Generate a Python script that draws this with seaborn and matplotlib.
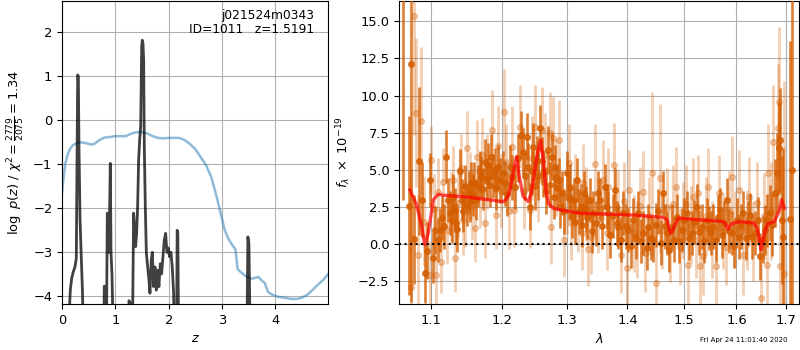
import numpy as np
import pandas as pd
import matplotlib
matplotlib.use("Agg")
import matplotlib.pyplot as plt
from matplotlib.ticker import FixedLocator, FixedFormatter, NullLocator
import seaborn as sns

plt.rcParams['font.family'] = ['DejaVu Sans']
plt.rcParams['font.size'] = 9.4

# ---------------- left panel: p(z) and chi2 curves ----------------
z_pz = [0.0, 0.06, 0.131, 0.156, 0.181, 0.212, 0.243, 0.268, 0.281, 0.294, 0.306,
        0.318, 0.337, 0.356, 0.381, 0.406, 0.5, 0.7, 0.786, 0.792, 0.811, 0.817,
        0.836, 0.849, 0.861, 0.873, 0.886, 0.905, 0.918, 0.937, 0.962, 1.05,
        1.242, 1.255, 1.273, 1.292, 1.323, 1.342, 1.361, 1.380, 1.398, 1.417,
        1.436, 1.455, 1.474, 1.493, 1.504, 1.517, 1.530, 1.542, 1.561, 1.580,
        1.605, 1.629, 1.648, 1.673, 1.692, 1.717, 1.742, 1.767, 1.792, 1.816,
        1.841, 1.866, 1.891, 1.916, 1.942, 1.966, 1.991, 2.016, 2.041, 2.066,
        2.091, 2.104, 2.13, 2.146, 2.158, 2.170, 2.185, 2.3, 3.4, 3.464, 3.483,
        3.502, 3.527, 3.6, 4.99]
logpz = [-8, -8, -4.5, -3.86, -3.59, -3.44, -3.33, -3.14, -1.0, 1.03, 1.0,
         -0.6, -2.2, -2.93, -3.8, -5, -8, -8, -4.5, -3.77, -3.8, -5,
         -4.3, -2.11, -2.2, -3.0, -2.55, -0.98, -3.0, -3.53, -5, -8,
         -5, -4.1, -4.13, -5, -4.5, -2.11, -2.49, -2.87, -2.57, -1.96,
         -0.9, -0.44, -0.15, 1.67, 1.82, 1.75, 1.37, -0.6, -1.96, -3.0,
         -3.33, -3.63, -3.93, -3.18, -3.0, -3.78, -3.33, -3.86, -3.41, -3.78,
         -3.26, -3.49, -3.11, -2.73, -2.57, -3.0, -2.9, -3.1, -3.0, -3.33,
         -3.93, -5, -8, -5, -2.5, -2.57, -5, -8, -8, -5, -2.65,
         -2.8, -5, -8, -8]

z_chi = [0.0, 0.03, 0.06, 0.1, 0.15, 0.2, 0.27, 0.35, 0.45, 0.55, 0.6, 0.7, 0.8,
         0.9, 1.0, 1.1, 1.2, 1.3, 1.4, 1.5, 1.6, 1.7, 1.8, 1.9, 2.0, 2.1, 2.2,
         2.3, 2.4, 2.5, 2.6, 2.7, 2.8, 2.9, 2.97, 3.05, 3.12, 3.2, 3.25, 3.29,
         3.35, 3.45, 3.55, 3.62, 3.68, 3.75, 3.8, 3.86, 3.95, 4.05, 4.15, 4.3,
         4.4, 4.5, 4.6, 4.7, 4.8, 4.9, 4.99]
chi_curve = [-1.65, -1.3, -1.0, -0.8, -0.65, -0.57, -0.52, -0.5, -0.52, -0.55, -0.54,
             -0.45, -0.39, -0.38, -0.36, -0.36, -0.36, -0.3, -0.27, -0.27, -0.3,
             -0.36, -0.4, -0.41, -0.4, -0.4, -0.4, -0.45, -0.54, -0.66, -0.84,
             -1.02, -1.3, -1.75, -2.1, -2.5, -2.7, -2.85, -2.93, -3.38, -3.45,
             -3.55, -3.6, -3.58, -3.56, -3.65, -3.7, -3.9, -3.97, -4.01, -4.03,
             -4.06, -4.06, -4.03, -3.96, -3.85, -3.73, -3.62, -3.49]

# ---------------- right panel: spectrum ----------------
wave_d = [1.0635, 1.0712, 1.0738, 1.0778, 1.0840, 1.0888, 1.0920, 1.0954, 1.0995, 1.1035,
          1.1054, 1.1098, 1.1130, 1.1157, 1.1185, 1.1211, 1.1235, 1.1258, 1.1289, 1.1310,
          1.1326, 1.1345, 1.1363, 1.1398, 1.1430, 1.1450, 1.1468, 1.1495, 1.1525, 1.1545,
          1.1562, 1.1580, 1.1600, 1.1630, 1.1657, 1.1680, 1.1704, 1.1730, 1.1752, 1.1780,
          1.1802, 1.1825, 1.1848, 1.1870, 1.1897, 1.1920, 1.1946, 1.1975, 1.2019, 1.2049,
          1.2085, 1.2122, 1.2160, 1.2197, 1.2240, 1.2282, 1.2312, 1.2345, 1.2373, 1.2397,
          1.2423, 1.2450, 1.2474, 1.2500, 1.2526, 1.2550, 1.2577, 1.2605, 1.2629, 1.2665,
          1.2708, 1.2735, 1.2762, 1.2790, 1.2815, 1.2840, 1.2868, 1.2895, 1.2922, 1.2960,
          1.3002, 1.3030, 1.3055, 1.3080, 1.3109, 1.3135, 1.3163, 1.3190, 1.3218, 1.3245,
          1.3272, 1.3300, 1.3326, 1.3371, 1.3400, 1.3425, 1.3465, 1.3508, 1.3536, 1.3565,
          1.3619, 1.3647, 1.3675, 1.3710, 1.3750, 1.3787, 1.3815, 1.3843, 1.3885, 1.3928,
          1.3970, 1.4013, 1.4055, 1.4099, 1.4140, 1.4186, 1.4230, 1.4273, 1.4332, 1.4361,
          1.4405, 1.4450, 1.4495, 1.4539, 1.4580, 1.4628, 1.4660, 1.4688, 1.4730, 1.4779,
          1.4820, 1.4869, 1.4915, 1.4961, 1.5005, 1.5053, 1.5100, 1.5145, 1.5190, 1.5238,
          1.5285, 1.5331, 1.5380, 1.5425, 1.5470, 1.5510, 1.5551, 1.5600, 1.5640, 1.5679,
          1.5720, 1.5765, 1.5808, 1.5855, 1.5906, 1.5950, 1.6004, 1.6050, 1.6090, 1.6134,
          1.6180, 1.6220, 1.6266, 1.6310, 1.6366, 1.6420, 1.6466, 1.6520, 1.6567, 1.6620,
          1.6669, 1.6720, 1.6771, 1.6818, 1.6846, 1.6874, 1.6909, 1.6930, 1.7083, 1.7130]
flux_d = [20.0, 2.6, 12.1, 0.33, 5.6, 3.0, -1.96, -0.43, 4.32, -0.9,
          0.96, 0.29, 0.96, 1.75, 1.2, 5.9, 2.98, 2.1, 1.6, 3.2,
          2.3, 1.4, 1.0, 4.9, 3.0, 2.2, 3.9, 2.6, 3.5, 2.9,
          4.1, 3.3, 4.1, 3.0, 3.9, 4.9, 4.5, 3.7, 5.56, 4.4,
          5.3, 4.0, 5.9, 4.6, 5.0, 3.8, 5.2, 4.3, 4.8, 4.1,
          3.4, 5.2, 4.5, 3.87, 5.8, 7.35, 6.23, 4.6, 7.24, 5.2,
          2.53, 4.9, 6.57, 3.9, 5.67, 4.6, 7.8, 5.6, 4.77, 3.6,
          6.34, 4.0, 5.9, 3.2, 5.2, 3.8, 4.32, 2.6, 3.43, 2.2,
          4.77, 3.1, 3.87, 1.9, 2.98, 1.5, 4.32, 2.2, 2.53, 1.3,
          3.43, 2.4, 1.85, 2.98, 0.9, 2.08, 1.4, 3.43, 2.98, 1.2,
          3.87, 2.53, 2.1, 0.6, 1.9, 3.65, 1.4, 1.18, 0.3, 2.1,
          1.2, 0.96, -0.1, 1.63, 0.5, 2.1, 0.2, 0.74, -0.27, 1.18,
          0.4, 0.29, 1.3, 2.2, 0.1, 3.43, 1.2, 0.74, -0.4, 1.18,
          0.3, 1.85, 0.2, 0.96, 1.6, 2.1, 0.4, 0.74, 1.5, 2.53,
          0.8, 1.18, 0.2, 1.63, 1.1, 0.74, 1.18, 0.3, 1.8, 2.31,
          0.6, 1.4, 2.98, 0.9, 0.74, -0.1, 1.63, 0.5, 1.2, 2.1,
          0.4, 1.4, 1.97, 0.5, 0.74, 1.6, -0.83, 0.3, 0.96, 1.6,
          2.1, 1.3, 3.43, 4.77, 6.45, 7.02, 1.63, 0.5, 1.7, 5.0]
err_d = [17.0, 6.0, 16.0, 3.0, 5.0, 2.5, 2.0, 1.9, 1.8, 1.7,
         1.6, 1.5, 1.5, 1.5, 1.5, 1.8, 1.5, 1.5, 1.5, 1.5,
         1.5, 1.4, 1.5, 1.5, 1.4, 1.4, 1.4, 1.4, 1.4, 1.4,
         1.4, 1.4, 1.4, 1.4, 1.4, 1.4, 1.4, 1.4, 1.5, 1.4,
         1.5, 1.5, 1.5, 1.5, 1.5, 1.5, 1.5, 1.5, 1.5, 1.5,
         1.5, 1.5, 1.5, 1.5, 1.6, 1.6, 1.6, 1.6, 1.6, 1.6,
         1.6, 1.6, 1.6, 1.6, 1.6, 1.6, 1.6, 1.6, 1.6, 1.6,
         1.6, 1.5, 1.6, 1.5, 1.5, 1.5, 1.5, 1.5, 1.5, 1.5,
         1.5, 1.5, 1.5, 1.5, 1.5, 1.5, 1.5, 1.5, 1.5, 1.5,
         1.5, 1.5, 1.5, 1.5, 1.5, 1.5, 1.5, 1.5, 1.5, 1.5,
         1.5, 1.5, 1.5, 1.5, 1.5, 1.5, 1.5, 1.5, 1.5, 1.5,
         1.5, 1.5, 1.5, 1.5, 1.5, 1.5, 1.5, 1.5, 1.5, 1.5,
         1.5, 1.5, 1.5, 1.5, 1.5, 1.5, 1.5, 1.5, 1.5, 1.5,
         1.5, 1.5, 1.5, 1.5, 1.5, 1.5, 1.5, 1.5, 1.5, 1.5,
         1.5, 1.5, 1.5, 1.5, 1.5, 1.5, 1.5, 1.5, 1.5, 1.5,
         1.5, 1.5, 1.5, 1.5, 1.5, 1.5, 1.5, 1.5, 1.5, 1.5,
         1.5, 1.5, 1.5, 1.5, 1.5, 1.6, 1.6, 1.6, 1.7, 1.8,
         1.9, 2.1, 2.3, 2.7, 3.1, 3.5, 4.3, 6.0, 12.0, 20.0]

wave_l = [1.0743, 1.0778, 1.0808, 1.0831, 1.0874, 1.0910, 1.0987, 1.1008, 1.1045, 1.1067,
          1.1100, 1.1143, 1.1170, 1.1225, 1.1280, 1.1303, 1.1335, 1.1370, 1.1410, 1.1440,
          1.1475, 1.1505, 1.1540, 1.1575, 1.1610, 1.1640, 1.1680, 1.1720, 1.1759, 1.1790,
          1.1862, 1.1920, 1.1950, 1.1990, 1.2030, 1.2070, 1.2110, 1.2147, 1.2180, 1.2272,
          1.2330, 1.2418, 1.2460, 1.2500, 1.2540, 1.2602, 1.2650, 1.2731, 1.2750, 1.2784,
          1.2830, 1.2879, 1.2949, 1.3000, 1.3029, 1.3070, 1.3120, 1.3180, 1.3233, 1.3260,
          1.3310, 1.3342, 1.3390, 1.3452, 1.3500, 1.3591, 1.3647, 1.3670, 1.3770, 1.3830,
          1.3883, 1.3940, 1.3984, 1.4030, 1.4110, 1.4157, 1.4210, 1.4262, 1.4300, 1.4380,
          1.4432, 1.4497, 1.4568, 1.4610, 1.4700, 1.4748, 1.4800, 1.4857, 1.4930, 1.4990,
          1.5041, 1.5084, 1.5130, 1.5176, 1.5220, 1.5269, 1.5300, 1.5362, 1.5410, 1.5456,
          1.5530, 1.5603, 1.5660, 1.5740, 1.5790, 1.5860, 1.5918, 1.5980, 1.6054, 1.6134,
          1.6200, 1.6250, 1.6330, 1.6410, 1.6485, 1.6540, 1.6601, 1.6621, 1.6700, 1.6737,
          1.6825, 1.6857, 1.6874, 1.6967]
flux_l = [-2.9, 15.36, 8.85, -0.72, 8.3, 1.5, -2.07, 5.67, 2.4, -2.07,
          3.5, -1.17, 4.2, 0.96, 2.53, 4.32, -0.9, 2.8, 5.1, 1.6,
          2.1, 6.45, 3.9, 2.6, 1.11, 5.85, 3.4, 6.0, 1.4, 4.9,
          7.7, 1.97, 6.63, 3.6, 8.88, 5.5, 2.2, 6.57, 2.31, 7.91,
          3.6, 2.31, 5.8, 7.91, 4.3, 7.7, 6.0, 7.47, 1.18, 7.13,
          4.5, 7.02, 0.29, 3.2, 5.49, 1.4, 3.6, 2.0, 0.74, 4.14,
          2.7, -0.34, 0.46, 5.4, 1.9, 4.32, 0.74, 3.87, 5.33, 2.4,
          -0.72, 2.9, -1.62, 3.65, 0.74, 0.29, 2.6, 3.54, -0.6, 1.9,
          4.77, -2.63, 4.43, 0.96, 2.5, 0.06, 2.7, 3.87, -0.16, 1.6,
          2.71, -1.4, 1.3, 3.2, 0.3, 3.43, -1.5, -0.83, 1.9, 3.87,
          0.29, -1.5, 3.43, 0.9, -0.16, 2.3, 4.55, 1.0, 3.65, -0.72,
          0.96, 3.2, 0.2, 2.75, -3.64, 1.9, -1.4, 4.77, 2.2, 6.9,
          7.8, 9.59, -1.5, -2.0]
err_l = [8.0, 8.0, 5.0, 4.0, 5.0, 3.0, 2.3, 2.3, 2.3, 2.1,
         2.3, 2.1, 2.3, 2.3, 2.3, 2.3, 2.3, 2.3, 2.3, 2.3,
         2.3, 2.5, 2.3, 2.3, 2.3, 2.5, 2.3, 2.5, 2.3, 2.5,
         2.7, 2.3, 2.7, 2.5, 2.9, 2.6, 2.5, 2.7, 2.5, 2.8,
         2.6, 2.6, 2.8, 2.8, 2.8, 2.9, 2.8, 2.8, 2.5, 2.8,
         2.6, 2.7, 2.5, 2.5, 2.6, 2.5, 2.5, 2.5, 2.5, 2.6,
         2.5, 2.5, 2.5, 2.7, 2.5, 2.7, 2.5, 2.6, 2.8, 2.6,
         2.6, 2.6, 2.6, 2.7, 2.6, 2.6, 2.6, 2.7, 2.6, 2.6,
         5.5, 2.8, 5.0, 2.6, 2.6, 2.6, 2.6, 2.7, 2.6, 2.6,
         2.6, 2.6, 2.6, 2.6, 2.6, 2.6, 2.6, 2.6, 2.6, 2.6,
         2.6, 2.6, 2.6, 2.6, 2.6, 2.6, 2.7, 2.6, 2.7, 2.7,
         2.7, 2.7, 2.7, 2.8, 2.9, 2.9, 3.1, 3.3, 3.3, 3.8,
         4.3, 5.0, 5.0, 13.0]

wave_model = [1.0725, 1.0812, 1.0880, 1.0920, 1.0968, 1.1035, 1.1103, 1.1160, 1.1448,
              1.2024, 1.2080, 1.2122, 1.2180, 1.2221, 1.2260, 1.2321, 1.2397, 1.2440,
              1.2474, 1.2540, 1.2588, 1.2628, 1.2670, 1.2705, 1.2784, 1.2900, 1.3208,
              1.4042, 1.4627, 1.4699, 1.4730, 1.4760, 1.4790, 1.4820, 1.4899, 1.5736,
              1.5790, 1.5833, 1.5897, 1.6060, 1.6356, 1.6422, 1.6460, 1.6490, 1.6520,
              1.6557, 1.6625, 1.6761, 1.6864, 1.6912, 1.6967]
flux_model = [3.65, 2.64, 1.2, -0.05, 0.74, 2.98, 3.36, 3.3, 3.2,
              2.86, 3.1, 3.65, 5.0, 5.9, 4.6, 3.2, 2.86, 3.4,
              4.3, 6.2, 7.0, 5.67, 3.6, 2.75, 2.42, 2.3, 2.08,
              1.97, 1.81, 1.63, 1.1, 0.74, 0.85, 1.18, 1.75, 1.52,
              1.35, 1.0, 1.36, 1.52, 1.41, 0.96, 0.2, -0.39, 0.1,
              0.74, 1.36, 1.52, 2.3, 2.98, 2.42]

title_lines = "j021524m0343\nID=1011   z=1.5191"
stamp = "Fri Apr 24 11:01:40 2020"
xticks_left = [0, 1, 2, 3, 4]
yticks_left = [-4, -3, -2, -1, 0, 1, 2]
xticks_right = [1.1, 1.2, 1.3, 1.4, 1.5, 1.6, 1.7]
yticks_right = [-2.5, 0.0, 2.5, 5.0, 7.5, 10.0, 12.5, 15.0]

GRISM = '#D55E00'

fig = plt.figure(figsize=(8, 3.5), dpi=100)
ax1 = fig.add_axes([0.0775, 0.1314, 0.3329, 0.8657])
ax2 = fig.add_axes([0.4991, 0.1314, 0.5000, 0.8657])

# left
df_chi = pd.DataFrame({'z': z_chi, 'v': chi_curve})
df_pz = pd.DataFrame({'z': z_pz, 'v': logpz})
sns.lineplot(data=df_chi, x='z', y='v', ax=ax1, color='C0', alpha=0.5, lw=1.8,
             estimator=None, sort=False)
sns.lineplot(data=df_pz, x='z', y='v', ax=ax1, color='k', alpha=0.75, lw=2,
             estimator=None, sort=False)
ax1.set_xlim(0, 4.99)
ax1.set_ylim(-4.175, 2.711)
ax1.set_xticks(xticks_left)
ax1.set_yticks(yticks_left)
ax1.grid(True)
ax1.set_axisbelow(True)
ax1.set_xlabel('$z$')
ax1.set_ylabel(r'$\log\ p(z)$ / $\chi^2=\frac{2779}{2075}=1.34$')
ax1.text(0.948, 0.975, title_lines, transform=ax1.transAxes, ha='right', va='top',
         fontsize=8.8, linespacing=1.15)

# right
ax2.set_xscale('log')
ax2.errorbar(wave_l, flux_l, yerr=err_l, color=GRISM, alpha=0.3, marker='o',
             ms=4.2, linestyle='none', elinewidth=2.0, zorder=2)
ax2.errorbar(wave_d, flux_d, yerr=err_d, color=GRISM, alpha=0.8, marker='o',
             ms=4.0, linestyle='none', elinewidth=1.9, zorder=3)
df_m = pd.DataFrame({'w': wave_model, 'f': flux_model})
sns.lineplot(data=df_m, x='w', y='f', ax=ax2, color='r', alpha=0.7, lw=2.4,
             estimator=None, sort=False, zorder=4)
ax2.axhline(0, color='k', ls=':', lw=1.5, zorder=5)
ax2.set_xlim(1.0585, 1.728)
ax2.set_ylim(-4.03, 16.37)
ax2.xaxis.set_major_locator(FixedLocator(xticks_right))
ax2.xaxis.set_major_formatter(FixedFormatter(['%.1f' % v for v in xticks_right]))
ax2.xaxis.set_minor_locator(NullLocator())
ax2.set_yticks(yticks_right)
ax2.grid(True)
ax2.set_axisbelow(True)
ax2.set_xlabel(r'$\lambda$')
ax2.set_ylabel(r'$f_\lambda\ \times\ 10^{-19}$')

fig.text(0.985, 0.028, stamp, ha='right', va='center', fontsize=5)

fig.savefig('out.png', dpi=100)
